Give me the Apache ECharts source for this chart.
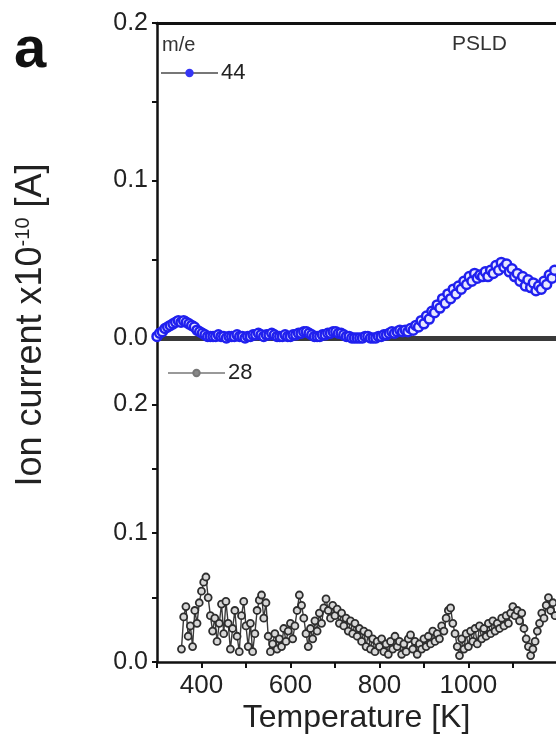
<!DOCTYPE html>
<html>
<head>
<meta charset="utf-8">
<script src="https://cdn.jsdelivr.net/npm/echarts@6/dist/echarts.min.js"></script>
<style>
html,body{margin:0;padding:0;background:#fff;}
#c{width:556px;height:737px;}
</style>
</head>
<body>
<div id="c"></div>
<script>
// ---- data ----
var xTickLabels = [400, 600, 800, 1000];
var yTickLabels = [0.0, 0.1, 0.2];

// m/e 44 (blue)
var temp44 = [
 300,306,312,318,324,330,336,342,348,354,
 360,366,372,378,384,390,396,402,408,414,
 420,426,432,438,444,450,456,462,468,474,
 480,486,492,498,504,510,516,522,528,534,
 540,546,552,558,564,570,576,582,588,594,
 600,606,612,618,624,630,636,642,648,654,
 660,666,672,678,684,690,696,702,708,714,
 720,726,732,738,744,750,756,762,768,774,
 780,786,792,798,804,810,816,822,828,834,
 840,846,852,858,864,870,876,882,888,894,
 900,906,912,918,924,930,936,942,948,954,
 960,966,972,978,984,990,996,1002,1008,1014,
 1020,1026,1032,1038,1044,1050,1056,1062,1068,1074,
 1080,1086,1092,1098,1104,1110,1116,1122,1128,1134,
 1140,1146,1152,1158,1164,1170,1176,1182,1188,1194];
var ion44 = [
 0.001,0.003,0.004,0.006,0.007,0.008,0.009,0.010,0.011,0.010,
 0.011,0.010,0.009,0.008,0.007,0.005,0.004,0.003,0.002,0.001,
 0.001,0.001,0.001,0.002,0.001,0.001,0.000,0.001,0.001,0.001,
 0.002,0.001,0.001,0.000,0.001,0.001,0.002,0.002,0.003,0.002,
 0.001,0.002,0.002,0.003,0.002,0.001,0.001,0.001,0.002,0.001,
 0.001,0.002,0.002,0.003,0.003,0.004,0.004,0.003,0.002,0.001,
 0.001,0.001,0.002,0.002,0.003,0.003,0.004,0.004,0.003,0.003,
 0.002,0.001,0.001,0.000,0.000,0.000,0.000,0.000,0.001,0.001,
 0.000,0.000,0.000,0.001,0.001,0.002,0.002,0.003,0.004,0.003,
 0.004,0.005,0.004,0.005,0.004,0.006,0.005,0.008,0.007,0.011,
 0.009,0.014,0.012,0.017,0.016,0.021,0.019,0.025,0.022,0.028,
 0.025,0.031,0.028,0.033,0.031,0.036,0.034,0.039,0.036,0.041,
 0.038,0.040,0.039,0.042,0.039,0.043,0.041,0.046,0.043,0.048,
 0.045,0.047,0.042,0.044,0.039,0.041,0.036,0.039,0.033,0.037,
 0.032,0.035,0.030,0.033,0.031,0.036,0.034,0.040,0.038,0.043];

// m/e 28 (grey)
var temp28 = [
 355,360,365,370,375,380,385,390,395,400,
 405,410,415,420,425,430,435,440,445,450,
 455,460,465,470,475,480,485,490,495,500,
 505,510,515,520,525,530,535,540,545,550,
 555,560,565,570,575,580,585,590,595,600,
 605,610,615,620,625,630,635,640,645,650,
 655,660,665,670,675,680,685,690,695,700,
 705,710,715,720,725,730,735,740,745,750,
 755,760,765,770,775,780,785,790,795,800,
 805,810,815,820,825,830,835,840,845,850,
 855,860,865,870,875,880,885,890,895,900,
 905,910,915,920,925,930,935,940,945,950,
 955,960,965,970,975,980,985,990,995,1000,
 1005,1010,1015,1020,1025,1030,1035,1040,1045,1050,
 1055,1060,1065,1070,1075,1080,1085,1090,1095,1100,
 1105,1110,1115,1120,1125,1130,1135,1140,1145,1150,
 1155,1160,1165,1170,1175,1180,1185,1190,1195];
var ion28 = [
 0.010,0.035,0.043,0.020,0.028,0.012,0.040,0.030,0.046,0.055,
 0.062,0.066,0.050,0.036,0.024,0.034,0.016,0.030,0.045,0.022,
 0.047,0.030,0.010,0.026,0.040,0.020,0.008,0.036,0.047,0.028,
 0.012,0.030,0.008,0.022,0.040,0.048,0.052,0.034,0.046,0.020,
 0.008,0.014,0.022,0.010,0.018,0.012,0.026,0.016,0.024,0.030,
 0.018,0.028,0.040,0.052,0.044,0.034,0.022,0.012,0.026,0.018,
 0.032,0.024,0.038,0.030,0.042,0.049,0.040,0.034,0.044,0.036,
 0.041,0.030,0.038,0.028,0.034,0.024,0.032,0.022,0.030,0.020,
 0.026,0.016,0.024,0.012,0.022,0.010,0.018,0.008,0.016,0.012,
 0.018,0.008,0.014,0.006,0.016,0.010,0.020,0.012,0.016,0.006,
 0.014,0.008,0.018,0.021,0.010,0.016,0.006,0.014,0.010,0.018,
 0.012,0.020,0.014,0.024,0.016,0.022,0.018,0.028,0.024,0.034,
 0.040,0.042,0.030,0.022,0.012,0.005,0.018,0.010,0.022,0.012,
 0.024,0.016,0.026,0.014,0.028,0.018,0.026,0.020,0.030,0.022,
 0.032,0.024,0.030,0.026,0.034,0.028,0.036,0.030,0.038,0.043,
 0.036,0.040,0.032,0.038,0.026,0.018,0.012,0.005,0.010,0.016,
 0.024,0.030,0.038,0.034,0.044,0.050,0.040,0.046,0.036];

function pairs(xs, ys){ var out=[]; var n=Math.min(xs.length, ys.length); for(var i=0;i<n;i++){out.push([xs[i],ys[i]]);} return out; }

var FONT = '"Liberation Sans", Arial, sans-serif';
var chart = echarts.init(document.getElementById('c'), null, {renderer:'canvas'});

function yLabel(v){
  for (var i=0;i<yTickLabels.length;i++){ if (Math.abs(v-yTickLabels[i])<1e-9) return yTickLabels[i].toFixed(1); }
  return '';
}
function xLabel(v){ return xTickLabels.indexOf(Math.round(v))>=0 && Math.abs(v-Math.round(v))<1e-9 ? String(v) : ''; }

var option = {
  animation:false,
  backgroundColor:'#fff',
  textStyle:{fontFamily:FONT},
  grid:[
    {left:157, top:23, width:399, height:315},
    {left:157, top:340, width:399, height:322}
  ],
  xAxis:[
    {gridIndex:0, type:'value', min:300, max:1197, interval:100, position:'bottom',
     axisLine:{show:true, onZero:false, lineStyle:{color:'#3a3a3a', width:5}},
     axisTick:{show:false}, axisLabel:{show:false}, splitLine:{show:false}},
    {gridIndex:0, type:'value', min:300, max:1197, interval:100, position:'top',
     axisLine:{show:true, onZero:false, lineStyle:{color:'#111', width:3}},
     axisTick:{show:false}, axisLabel:{show:false}, splitLine:{show:false}},
    {gridIndex:1, type:'value', min:300, max:1197, interval:100, position:'bottom',
     axisLine:{show:true, onZero:false, lineStyle:{color:'#111', width:2.5}},
     axisTick:{show:true, inside:false, length:6, lineStyle:{color:'#111', width:2}},
     axisLabel:{show:true, margin:11, fontSize:26, color:'#222', fontFamily:FONT, formatter:xLabel, showMaxLabel:false},
     splitLine:{show:false},
     name:'Temperature [K]', nameLocation:'middle', nameGap:40,
     nameTextStyle:{fontSize:32, color:'#222', fontFamily:FONT}}
  ],
  yAxis:[
    {gridIndex:0, type:'value', min:0, max:0.2, interval:0.05,
     axisLine:{show:true, onZero:false, lineStyle:{color:'#111', width:2.5}},
     axisTick:{show:true, inside:false, length:5, lineStyle:{color:'#111', width:2}},
     axisLabel:{show:true, margin:9, fontSize:25, color:'#222', fontFamily:FONT, formatter:yLabel},
     splitLine:{show:false}},
    {gridIndex:1, type:'value', min:0, max:0.25, interval:0.05,
     axisLine:{show:true, onZero:false, lineStyle:{color:'#111', width:2.5}},
     axisTick:{show:true, inside:false, length:5, lineStyle:{color:'#111', width:2}},
     axisLabel:{show:true, margin:9, fontSize:25, color:'#222', fontFamily:FONT, formatter:yLabel, showMaxLabel:false},
     splitLine:{show:false}}
  ],
  legend:[
    {left:160, top:62, padding:0, itemWidth:57, itemHeight:8, itemGap:5,
     data:[{name:'44', itemStyle:{color:'#3636f5', borderColor:'#3636f5'}, lineStyle:{color:'#777', width:2}}],
     textStyle:{fontSize:22, color:'#222', fontFamily:FONT, padding:[0,0,0,-2]}},
    {left:167, top:362, padding:0, itemWidth:57, itemHeight:8, itemGap:5,
     data:[{name:'28', itemStyle:{color:'#888', borderColor:'#777'}, lineStyle:{color:'#999', width:2}}],
     textStyle:{fontSize:22, color:'#222', fontFamily:FONT, padding:[0,0,0,-2]}}
  ],
  series:[
    {name:'44', type:'line', xAxisIndex:0, yAxisIndex:0, data:pairs(temp44, ion44),
     symbol:'circle', symbolSize:9, showSymbol:true,
     itemStyle:{color:'#e8e8ff', borderColor:'#2020ee', borderWidth:2.5},
     lineStyle:{color:'#2a2af0', width:2}, z:3},
    {name:'28', type:'line', xAxisIndex:2, yAxisIndex:1, data:pairs(temp28, ion28),
     symbol:'circle', symbolSize:7, showSymbol:true,
     itemStyle:{color:'#d8d8d8', borderColor:'#2e2e2e', borderWidth:1.8},
     lineStyle:{color:'#3a3a3a', width:1.4}, z:3}
  ],
  graphic:[
    {type:'text', left:14, top:22, style:{text:'a', font:'bold 58px '+FONT, fill:'#111'}},
    {type:'text', x:162, y:45, style:{text:'m/e', font:'20px '+FONT, fill:'#333', verticalAlign:'middle'}},
    {type:'text', x:452, y:44, style:{text:'PSLD', font:'21px '+FONT, fill:'#333', verticalAlign:'middle'}},
    {type:'text', x:31, y:325, rotation:Math.PI/2,
     style:{text:'Ion current x10{sup|-10} [A]', font:'36px '+FONT, fill:'#222', align:'center', verticalAlign:'middle',
       rich:{sup:{fontSize:20, fontFamily:FONT, fill:'#222', verticalAlign:'top', padding:[0,0,14,0]}}}}
  ]
};
chart.setOption(option);
</script>
</body>
</html>
